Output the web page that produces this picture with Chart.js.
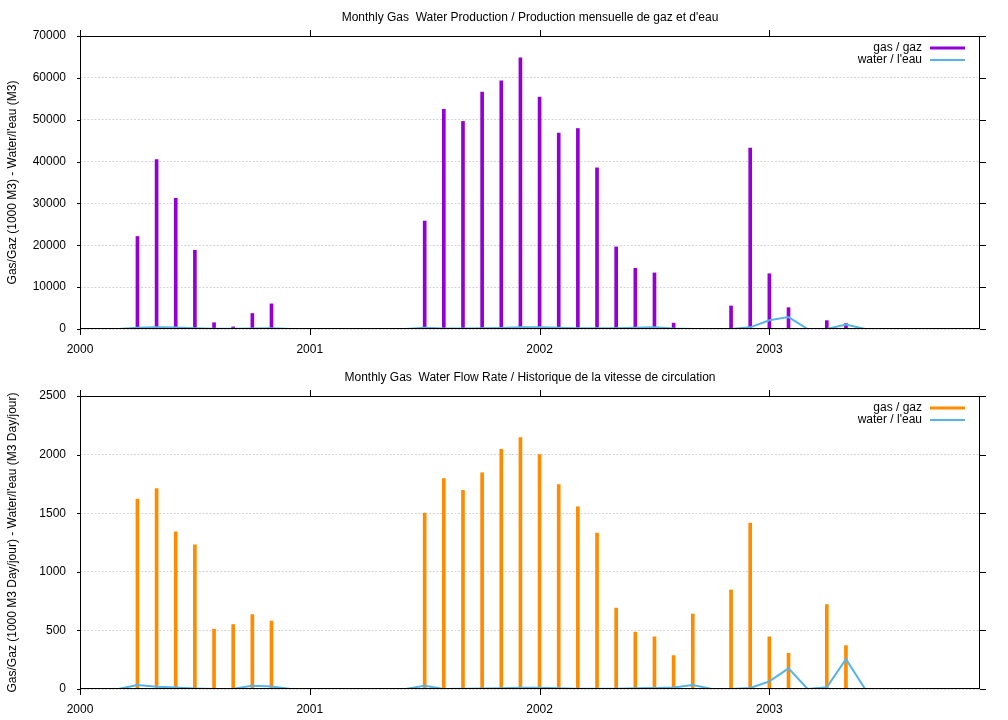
<!DOCTYPE html>
<html>
<head>
<meta charset="utf-8">
<title>Monthly Gas / Water</title>
<script src="https://cdn.jsdelivr.net/npm/chart.js@4.4.1/dist/chart.umd.min.js"></script>
<style>
  html, body { margin: 0; padding: 0; background: #fff; }
  canvas { display: block; }
</style>
</head>
<body>
<canvas id="prodChart" width="1008" height="360"></canvas>
<canvas id="rateChart" width="1008" height="360"></canvas>
<script>
// months that have a gas figure
const gasMonths = [
  '2000-04', '2000-05', '2000-06', '2000-07', '2000-08', '2000-09', '2000-10', '2000-11',
  '2001-07', '2001-08', '2001-09', '2001-10', '2001-11', '2001-12',
  '2002-01', '2002-02', '2002-03', '2002-04', '2002-05', '2002-06', '2002-07', '2002-08', '2002-09',
  '2002-11', '2002-12',
  '2003-01', '2003-02', '2003-04', '2003-05'
];
// 1000 M3
const gasProduction = [
  22100, 40500, 31200, 18800, 1500, 500, 3700, 6000,
  25800, 52500, 49600, 56600, 59300, 64800,
  55400, 46800, 47900, 38500, 19600, 14500, 13400, 1400, 0,
  5500, 43200,
  13200, 5100, 2000, 1300
];
// 1000 M3 / day
const gasRate = [
  1620, 1710, 1340, 1230, 510, 550, 635, 580,
  1500, 1795, 1695, 1845, 2045, 2145,
  2000, 1745, 1555, 1330, 690, 485, 445, 285, 640,
  845, 1415,
  445, 305, 720, 370
];

// null month = break in the line
const waterProdMonths = [
  '2000-03', '2000-04', '2000-05', '2000-06', '2000-07', '2000-08', '2000-09', '2000-10', '2000-11', '2000-12', null,
  '2001-06', '2001-07', '2001-08', '2001-09', '2001-10', '2001-11', '2001-12',
  '2002-01', '2002-02', '2002-03', '2002-04', '2002-05', '2002-06', '2002-07', '2002-08', '2002-09', null,
  '2002-10', '2002-11', '2002-12', '2003-01', '2003-02', '2003-03', '2003-04', '2003-05', '2003-06'
];
const waterProduction = [
  0, 300, 400, 350, 200, 50, 50, 100, 150, 0, null,
  0, 300, 100, 100, 150, 250, 400,
  400, 300, 200, 150, 150, 300, 400, 100, 0, null,
  0, 0, 400, 2100, 2850, 0, 0, 1050, 0
];
const waterRateMonths = [
  '2000-03', '2000-04', '2000-05', '2000-06', '2000-07', '2000-08', '2000-09', '2000-10', '2000-11', '2000-12', null,
  '2001-06', '2001-07', '2001-08', '2001-09', '2001-10', '2001-11', '2001-12',
  '2002-01', '2002-02', '2002-03', '2002-04', '2002-05', '2002-06', '2002-07', '2002-08', '2002-09',
  '2002-10', '2002-11', '2002-12', '2003-01', '2003-02', '2003-03', '2003-04', '2003-05', '2003-06'
];
const waterRate = [
  0, 34, 20, 12, 5, 0, 3, 27, 22, 0, null,
  0, 28, 0, 2, 4, 6, 10,
  10, 6, 3, 2, 3, 6, 8, 12, 34,
  0, 0, 8, 65, 176, 0, 14, 255, 0
];

const yearTicks = [2000, 2001, 2002, 2003];
const prodTicks = [0, 10000, 20000, 30000, 40000, 50000, 60000, 70000];
const rateTicks = [0, 500, 1000, 1500, 2000, 2500];

const FONT = '"Liberation Sans", Arial, sans-serif';
Chart.defaults.font.family = FONT;
Chart.defaults.font.size = 12;
Chart.defaults.color = '#000';

function toYear(m) {
  const [y, mo] = m.split('-').map(Number);
  return y + (mo - 1) / 12;
}

function points(months, values) {
  return months.map((m, i) => m
    ? { x: toYear(m), y: values[i] }
    : { x: toYear(months[i - 1]), y: null });
}

// gnuplot-like frame, outward tics on all four sides, key in the top right corner
const framePlugin = {
  id: 'frame',
  afterDatasetsDraw(chart) {
    const { ctx, chartArea: a, scales: { x, y } } = chart;
    ctx.save();
    ctx.strokeStyle = '#000';
    ctx.lineWidth = 1;
    ctx.strokeRect(a.left + 0.5, a.top + 0.5, a.right - a.left - 1, a.bottom - a.top - 1);
    ctx.beginPath();
    x.ticks.forEach(t => {
      const px = Math.round(x.getPixelForValue(t.value)) + 0.5;
      ctx.moveTo(px, a.bottom); ctx.lineTo(px, a.bottom + 6);
      ctx.moveTo(px, a.top); ctx.lineTo(px, a.top - 6);
    });
    y.ticks.forEach(t => {
      const py = Math.round(y.getPixelForValue(t.value)) + 0.5;
      ctx.moveTo(a.left, py); ctx.lineTo(a.left - 3, py);
      ctx.moveTo(a.right, py); ctx.lineTo(a.right + 6, py);
    });
    ctx.stroke();

    // key
    const rows = chart.data.datasets.slice().sort((p, q) => p.keyRow - q.keyRow);
    ctx.font = '12px ' + FONT;
    ctx.textAlign = 'right';
    ctx.textBaseline = 'middle';
    rows.forEach((ds, i) => {
      const ky = a.top + 12 + i * 12;
      ctx.fillStyle = '#000';
      ctx.fillText(ds.label, a.right - 58, ky);
      ctx.strokeStyle = ds.type === 'bar' ? ds.backgroundColor : ds.borderColor;
      ctx.lineWidth = ds.keyWidth;
      ctx.beginPath();
      ctx.moveTo(a.right - 50, ky); ctx.lineTo(a.right - 15, ky);
      ctx.stroke();
    });
    ctx.restore();
  }
};

function makeChart(id, title, yTitle, gasValues, gasColor, waterMonths, waterValues, yTicks) {
  new Chart(document.getElementById(id), {
    type: 'bar',
    data: {
      datasets: [
        { type: 'bar', label: 'gas / gaz', data: points(gasMonths, gasValues),
          backgroundColor: gasColor, barThickness: 3, order: 1, keyRow: 0, keyWidth: 3 },
        { type: 'line', label: 'water / l\'eau', data: points(waterMonths, waterValues),
          borderColor: '#56b4e9', borderWidth: 2, pointRadius: 0, tension: 0, spanGaps: false,
          order: 0, keyRow: 1, keyWidth: 2 }
      ]
    },
    options: {
      responsive: false,
      animation: false,
      devicePixelRatio: 1,
      layout: { padding: { top: 0, right: 28, bottom: 0, left: 0 } },
      plugins: {
        legend: { display: false },
        tooltip: { enabled: false },
        title: { display: true, text: title, fullSize: false, color: '#000',
          font: { size: 12, weight: 'normal' }, padding: { top: 10, bottom: 11.6 } }
      },
      scales: {
        x: {
          type: 'linear', min: 2000, max: 2003 + 11 / 12, offset: false,
          grid: { display: false, drawTicks: false, offset: false },
          border: { display: false },
          afterBuildTicks: s => { s.ticks = yearTicks.map(v => ({ value: v })); },
          afterFit: s => { s.height = 31; },
          ticks: { color: '#000', padding: 13, maxRotation: 0, autoSkip: false, callback: v => String(v) }
        },
        y: {
          min: yTicks[0], max: yTicks[yTicks.length - 1],
          grid: { color: '#d4d4d4', lineWidth: 1, drawTicks: false },
          border: { display: false, dash: [2, 1.6] },
          afterBuildTicks: s => { s.ticks = yTicks.map(v => ({ value: v })); },
          afterFit: s => { s.width = 80; },
          ticks: { color: '#000', padding: 14, autoSkip: false, callback: v => String(v) },
          title: { display: true, text: yTitle, color: '#000', padding: { top: 5, bottom: 0 } }
        }
      }
    },
    plugins: [framePlugin]
  });
}

makeChart('prodChart',
  'Monthly Gas  Water Production / Production mensuelle de gaz et d\'eau',
  'Gas/Gaz (1000 M3) - Water/l\'eau (M3)',
  gasProduction, '#9400d3', waterProdMonths, waterProduction, prodTicks);

makeChart('rateChart',
  'Monthly Gas  Water Flow Rate / Historique de la vitesse de circulation',
  'Gas/Gaz (1000 M3 Day/jour) - Water/l\'eau (M3 Day/jour)',
  gasRate, '#ff8c00', waterRateMonths, waterRate, rateTicks);
</script>
</body>
</html>
